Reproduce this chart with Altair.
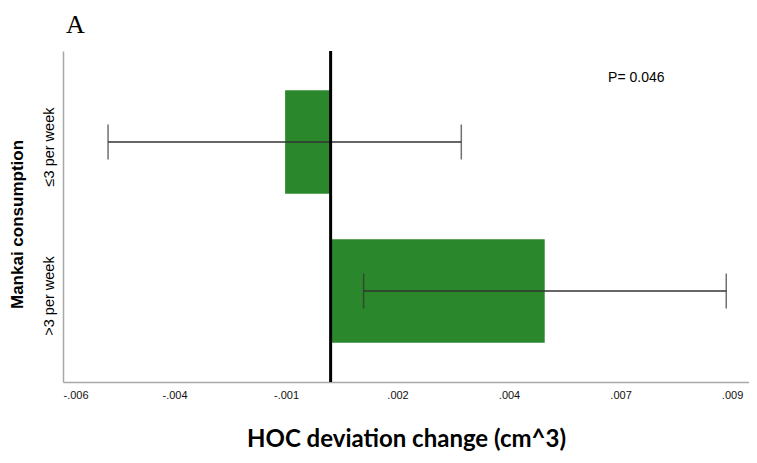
import altair as alt
import pandas as pd

# ---- data ----
categories = ["≤3 per week", ">3 per week"]
means = [-0.00102, 0.0048]
ci_low = [-0.00499, 0.00074]
ci_high = [0.00293, 0.00887]

tick_values = [-0.006, -0.0035, -0.001, 0.0015, 0.004, 0.0065, 0.009]
tick_labels = ["-.006", "-.004", "-.001", ".002", ".004", ".007", ".009"]

p_text = "P= 0.046"
panel_label = "A"
x_title = "HOC deviation change (cm^3)"
y_title = "Mankai consumption"

df = pd.DataFrame({
    "cat": categories,
    "mean": means,
    "lo": ci_low,
    "hi": ci_high,
    "zero": [0.0] * len(categories),
})

label_expr = ""
for v, lab in zip(tick_values, tick_labels):
    label_expr += f"abs(datum.value - ({v})) < 1e-6 ? '{lab}' : "
label_expr += "''"

x_scale = alt.Scale(domain=[-0.006, 0.00938], nice=False, zero=False)
y_scale = alt.Scale(domain=categories, paddingInner=0.305, paddingOuter=0.263)

x_axis = alt.Axis(
    values=tick_values, labelExpr=label_expr, title=x_title, grid=False, ticks=False,
    domainColor="#a8a8a8", domainWidth=1.5, labelFont="Liberation Sans", labelFontSize=11,
    labelColor="#111111", labelPadding=7, titleFont="Lato", titleFontSize=24,
    titleFontWeight="bold", titleColor="#000000", titleBaseline="alphabetic", titleY=64,
)
y_axis = alt.Axis(
    title=y_title, grid=False, ticks=False, labelAngle=-90, labelAlign="center",
    labelBaseline="bottom", labelPadding=7, labelOffset=5, domainColor="#a8a8a8",
    domainWidth=1.5, labelFont="Liberation Sans", labelFontSize=14.5, labelColor="#000000",
    titleFont="Liberation Sans", titleFontSize=17, titleFontWeight="bold",
    titleColor="#000000", titleBaseline="middle", titleX=-46, titleY=173,
)

base = alt.Chart(df)

bars = base.mark_bar(color="#2B872B").encode(
    x=alt.X("mean:Q", scale=x_scale, axis=x_axis),
    x2="zero:Q",
    y=alt.Y("cat:N", scale=y_scale, axis=y_axis, sort=categories),
)

err = base.mark_rule(color="#333333", strokeWidth=1.5).encode(
    x="lo:Q", x2="hi:Q", y=alt.Y("cat:N", sort=categories),
)
cap_lo = base.mark_tick(color="#333333", thickness=1.5, size=35).encode(
    x="lo:Q", y=alt.Y("cat:N", sort=categories),
)
cap_hi = base.mark_tick(color="#333333", thickness=1.5, size=35).encode(
    x="hi:Q", y=alt.Y("cat:N", sort=categories),
)

zero_line = alt.Chart(pd.DataFrame({"z": [0.0]})).mark_rule(
    color="#000000", strokeWidth=3
).encode(x="z:Q")

ptxt = alt.Chart(pd.DataFrame({"t": [p_text], "x": [0.00622]})).mark_text(
    align="left", baseline="middle", font="Liberation Sans", fontSize=14, color="#000000"
).encode(x="x:Q", y=alt.value(27), text="t:N")

chart = alt.layer(bars, err, cap_lo, cap_hi, zero_line, ptxt).properties(
    width=686,
    height=331,
    padding={"left": 55, "top": 43, "right": 0, "bottom": 73},
    autosize=alt.AutoSizeParams(type="none"),
    title=alt.TitleParams(
        panel_label, anchor="start", frame="group", font="Liberation Serif", fontSize=26,
        fontWeight="normal", color="#000000", offset=12, dx=3,
    ),
).configure_view(stroke=None)

chart.save("out.html", embed_options={"renderer": "svg", "actions": False})
